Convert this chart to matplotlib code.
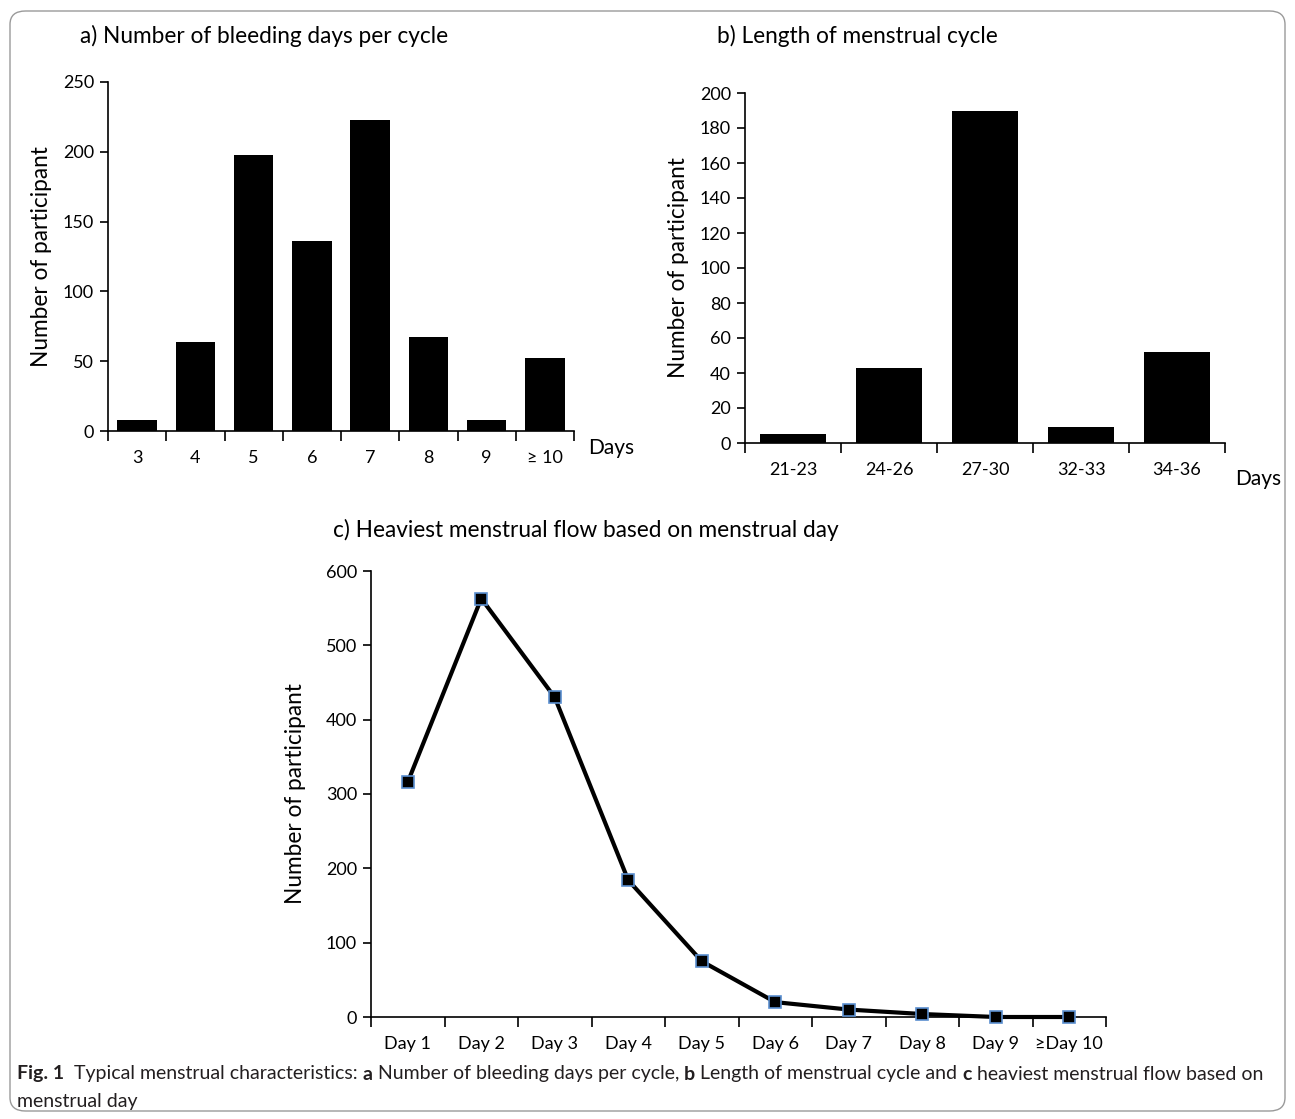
import numpy as np
import matplotlib
matplotlib.use("Agg")
import matplotlib.pyplot as plt
from matplotlib.patches import FancyBboxPatch

plt.rcParams["font.family"] = ["Lato", "DejaVu Sans"]

# a) bleeding days per cycle
bleed_days = ["3", "4", "5", "6", "7", "8", "9", "≥ 10"]
bleed_counts = [8, 64, 198, 136, 223, 67, 8, 52]

# b) cycle length
cycle_len = ["21-23", "24-26", "27-30", "32-33", "34-36"]
cycle_counts = [5, 43, 190, 9, 52]

# c) heaviest flow day
flow_days = ["Day 1", "Day 2", "Day 3", "Day 4", "Day 5",
             "Day 6", "Day 7", "Day 8", "Day 9", "≥Day 10"]
flow_counts = [316, 563, 430, 184, 75, 20, 10, 4, 0, 0]

W, H = 1295, 1119
fig = plt.figure(figsize=(W / 100, H / 100), dpi=100)


def box(x0, y0, x1, y1):
    # pixel box -> figure fraction rect
    return [x0 / W, 1 - y1 / H, (x1 - x0) / W, (y1 - y0) / H]


def style_axis(ax, labels, ymax, ystep):
    n = len(labels)
    ax.set_xlim(-0.5, n - 0.5)
    ax.set_ylim(0, ymax)
    ax.set_yticks(np.arange(0, ymax + 1, ystep))
    ax.set_xticks(np.arange(n))
    ax.set_xticklabels(labels)
    ax.set_xticks(np.arange(n + 1) - 0.5, minor=True)
    ax.tick_params(axis="x", which="major", length=0, pad=14, labelsize=13)
    ax.tick_params(axis="x", which="minor", length=7, width=1.2, direction="out")
    ax.tick_params(axis="y", length=6, width=1.2, labelsize=13, pad=4)
    for s in ["top", "right"]:
        ax.spines[s].set_visible(False)
    for s in ["left", "bottom"]:
        ax.spines[s].set_linewidth(1.2)
    ax.set_ylabel("Number of participant", fontsize=16.3)


# panel a
ax1 = fig.add_axes(box(108, 82, 574, 431))
ax1.bar(np.arange(len(bleed_days)), bleed_counts, width=0.68, color="black")
style_axis(ax1, bleed_days, 250, 50)
ax1.yaxis.labelpad = 8
ax1.text(1.03, -0.05, "Days", transform=ax1.transAxes, fontsize=15,
         ha="left", va="center")
fig.text(80 / W, 1 - 36 / H, "a) Number of bleeding days per cycle",
         fontsize=16.3, ha="left", va="center")

# panel b
ax2 = fig.add_axes(box(745, 93, 1225, 443))
ax2.bar(np.arange(len(cycle_len)), cycle_counts, width=0.68, color="black")
style_axis(ax2, cycle_len, 200, 20)
ax2.yaxis.labelpad = 8
ax2.text(1.022, -0.103, "Days", transform=ax2.transAxes, fontsize=15,
         ha="left", va="center")
fig.text(717 / W, 1 - 36 / H, "b) Length of menstrual cycle",
         fontsize=16.3, ha="left", va="center")

# panel c
ax3 = fig.add_axes(box(371, 571, 1106, 1017))
ax3.plot(np.arange(len(flow_days)), flow_counts, color="black", lw=3,
         marker="s", markersize=9, markerfacecolor="black",
         markeredgecolor="#5b8fd0", markeredgewidth=1.2, clip_on=False, zorder=3)
style_axis(ax3, flow_days, 600, 100)
ax3.yaxis.labelpad = 14
fig.text(333 / W, 1 - 530 / H, "c) Heaviest menstrual flow based on menstrual day",
         fontsize=16.3, ha="left", va="center")

# caption, built piece by piece to mix bold and normal weight
parts = [("Fig. 1", "bold"), ("  Typical menstrual characteristics: ", "normal"),
         ("a", "bold"), (" Number of bleeding days per cycle, ", "normal"),
         ("b", "bold"), (" Length of menstrual cycle and ", "normal"),
         ("c", "bold"), (" heaviest menstrual flow based on", "normal")]
r = fig.canvas.get_renderer()
x = 17
for txt, wt in parts:
    t = fig.text(x / W, 1 - 1074 / H, txt, fontsize=14, fontweight=wt,
                 ha="left", va="center", color="#231f20")
    x += t.get_window_extent(renderer=r).width
fig.text(17 / W, 1 - 1101 / H, "menstrual day", fontsize=14,
         ha="left", va="center", color="#231f20")

# rounded frame
frame = FancyBboxPatch((10 / W, 8 / H), 1275 / W, 1100 / H,
                       boxstyle="round,pad=0,rounding_size=0.012",
                       transform=fig.transFigure, fill=False,
                       edgecolor="#9a9a9a", lw=1.0)
fig.patches.append(frame)

fig.savefig("out.png", dpi=100)
